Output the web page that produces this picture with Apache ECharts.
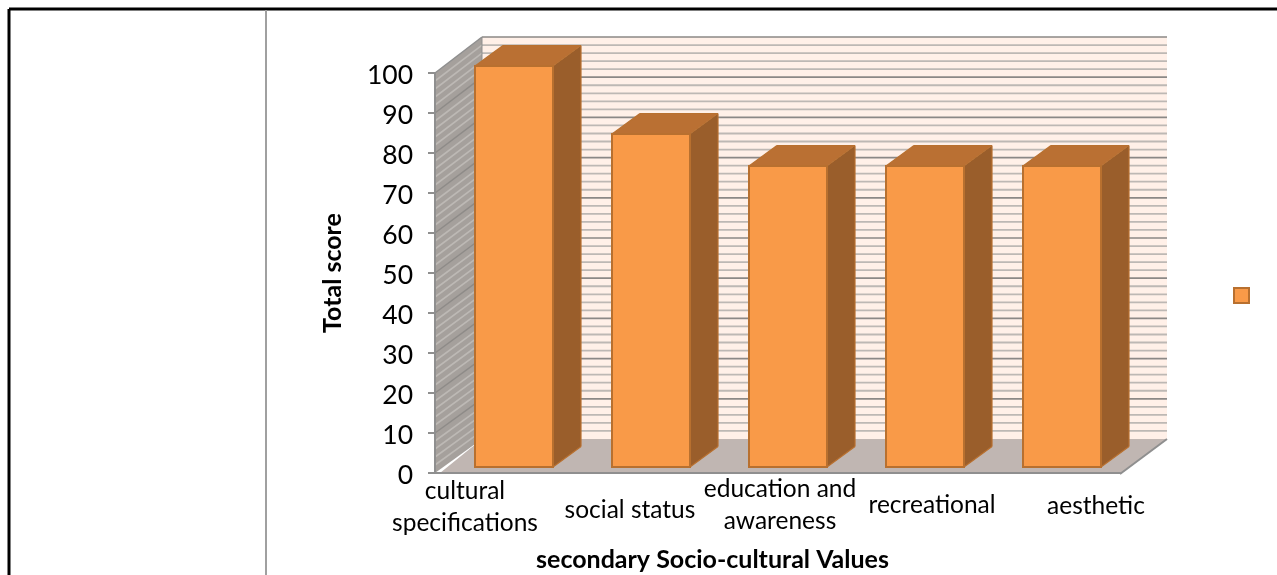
<!DOCTYPE html>
<html><head><meta charset="utf-8">
<style>html,body{margin:0;padding:0;background:#fff}#c{width:1277px;height:575px}</style>
<script src="https://cdn.jsdelivr.net/npm/echarts@6/dist/echarts.min.js"></script>
</head><body><div id="c"></div>
<script>
const categories = ['cultural\nspecifications','social status','education and\nawareness','recreational','aesthetic'];
const values = [100, 83, 75, 75, 75];
const yTicks = [0,10,20,30,40,50,60,70,80,90,100];
const xTitle = 'secondary Socio-cultural Values';
const yTitle = 'Total score';

const FONT = 'Lato';
const C = {front:'#F99A48', edge:'#B8702F', top:'#BA7033', side:'#9A5E2B',
  wall:'#FFF0E8', minor:'#BDB8B4', major:'#8B8886',
  lwall:'#A5A09C', lminor:'#BDB9B5', lmajor:'#8E8B88', floor:'#C0B6B2', line:'#8F8F8F'};
// label nudges: [top, right, bottom, left] padding per category
const pads = [[0,77,0,0],[19,21,0,0],[-2,0,0,5],[14,0,0,35],[15,0,0,89]];
const DX = 47;
const backY = (api,v)=> api.coord([0,v])[1] - 34 - 0.02*v;
function poly(points, fill, stroke, lw){
  return {type:'polygon', shape:{points}, style:{fill, stroke:stroke||null, lineWidth:lw||0}};
}
function line(x1,y1,x2,y2,stroke,lw){
  return {type:'line', shape:{x1,y1,x2,y2}, style:{stroke, lineWidth:lw}};
}
function renderWalls(params, api){
  const cs = params.coordSys, L = cs.x, R = cs.x+cs.width;
  const ch = [];
  const y0 = api.coord([0,0])[1], y100 = api.coord([0,100])[1];
  ch.push(poly([[L+DX,backY(api,100)],[R+DX,backY(api,100)],[R+DX,backY(api,0)],[L+DX,backY(api,0)]],C.wall));
  ch.push(poly([[L,y100],[L+DX,backY(api,100)],[L+DX,backY(api,0)],[L,y0]],C.lwall));
  for(let v=0;v<=100;v+=2){
    const maj = v%10===0, y=api.coord([0,v])[1], b=backY(api,v);
    if(v>0) ch.push(line(L+DX,b,R+DX,b,maj?C.major:C.minor,maj?1.7:1.8));
    if(v>0 && v<100) ch.push(line(L,y,L+DX,b,maj?C.lmajor:C.lminor,maj?1.5:1.6));
  }
  ch.push(line(L+DX,backY(api,100),L,y100,C.line,1.5));
  ch.push(line(L+DX,backY(api,100),L+DX,backY(api,0),C.line,1));
  ch.push(poly([[L+5,y0],[L+DX,backY(api,0)],[R+DX,backY(api,0)],[R,y0+1]],C.floor));
  ch.push(line(R,y0+1,R+DX,backY(api,0),C.line,2));
  return {type:'group', children:ch};
}
function renderBar(params, api){
  const c = api.coord([api.value(0), api.value(1)]);
  const base = api.coord([api.value(0), 0]);
  const w = 78, sx = 10.5, lift = 6, dx = 28, dy = 20.5;
  const l = c[0]+sx-w/2, r = l+w, t = c[1]-lift-1, b = base[1]-lift;
  return {type:'group', children:[
    poly([[r,t],[r+dx,t-dy],[r+dx,b-dy],[r,b]],C.side),
    poly([[l,t],[l+dx,t-dy],[r+dx,t-dy],[r,t]],C.top),
    line(l,t,l+dx,t-dy,C.edge,1.2), line(l+dx,t-dy,r+dx,t-dy,C.edge,1.2),
    line(r+dx,t-dy,r+dx,b-dy,C.edge,1.2), line(r+dx,b-dy,r,b,C.edge,1.2), line(r,t,r+dx,t-dy,C.edge,1),
    poly([[l,t],[r,t],[r,b],[l,b]],C.front,C.edge,2)
  ]};
}
const chart = echarts.init(document.getElementById('c'), null, {renderer:'canvas'});
chart.setOption({
  animation:false,
  backgroundColor:'#fff',
  grid:{left:435, top:73, width:685, height:400, containLabel:false, outerBoundsMode:'none'},
  legend:{show:true, left:1233, top:287, itemWidth:15, itemHeight:15, itemGap:0, padding:0, selectedMode:false,
    icon:'rect', data:[{name:' ', itemStyle:{color:C.front, borderColor:C.edge, borderWidth:2}}], textStyle:{fontSize:1, color:'#fff'}},
  xAxis:{type:'category', data:categories.map((value,i)=>({value, textStyle:{padding:pads[i]}})),
    axisLine:{lineStyle:{color:C.line,width:2}}, axisTick:{show:false},
    axisLabel:{interval:0, hideOverlap:false, margin:2, color:'#000', fontFamily:FONT, fontSize:24.5, lineHeight:32, verticalAlign:'top', formatter:v=>v},
    name:xTitle, nameLocation:'middle', nameGap:74, nameMoveOverlap:false,
    nameTextStyle:{fontFamily:FONT, fontWeight:'bold', fontSize:25, color:'#000', padding:[0,130,0,0]},
    splitLine:{show:false}, z:3},
  yAxis:{type:'value', min:0, max:100, interval:10,
    axisLine:{show:true, lineStyle:{color:C.line,width:2}},
    axisTick:{show:true, length:7, lineStyle:{color:C.line,width:2}},
    axisLabel:{margin:22, formatter:'{n|{value}}', customValues:yTicks,
      rich:{n:{color:'#000', fontFamily:FONT, fontSize:26.5, padding:[4,0,0,0]}}},
    name:yTitle, nameLocation:'middle', nameGap:90, nameMoveOverlap:false,
    nameTextStyle:{fontFamily:FONT, fontWeight:'bold', fontSize:25, color:'#000'},
    splitLine:{show:false}, z:3},
  graphic:[
    {type:'line', silent:true, z:50, shape:{x1:9,y1:9,x2:1277,y2:9}, style:{stroke:'#000',lineWidth:3}},
    {type:'line', silent:true, z:50, shape:{x1:9,y1:9,x2:9,y2:575}, style:{stroke:'#000',lineWidth:3}},
    {type:'line', silent:true, z:50, shape:{x1:266,y1:10,x2:266,y2:575}, style:{stroke:'#A0A0A0',lineWidth:2}}
  ],
  series:[
    {type:'custom', name:'walls', renderItem:renderWalls, data:[[0,0]], z:1, silent:true},
    {type:'custom', name:' ', renderItem:renderBar, z:2, itemStyle:{color:C.front},
      data:values.map((v,i)=>[i,v]), encode:{x:0,y:1}}
  ]
});
</script></body></html>
